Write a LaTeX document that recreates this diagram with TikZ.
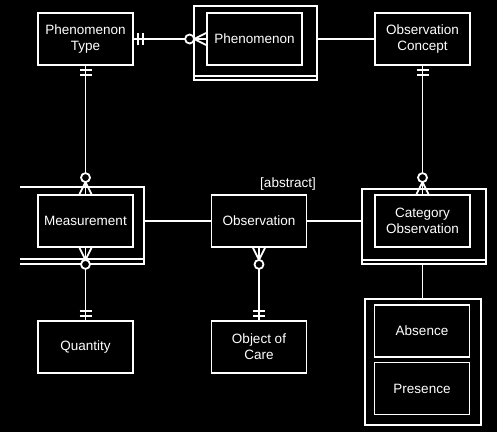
\documentclass[tikz,border=0pt]{standalone}
\usepackage{fontspec}
\setmainfont{Liberation Sans}
\tikzset{
  entity/.style={draw, fill=black, minimum width=95pt, minimum height=52pt,
    inner sep=0pt, align=center, font=\fontsize{13.5}{16}\selectfont},
  superbox/.style={draw, inner sep=0pt},
  manyopt/.pic={
    \draw (0,-6) -- (12,0) -- (0,6);
    \draw (0,0) -- (12,0);
    \draw[fill=black] (16.5,0) circle (4.5pt);
  },
  onlyone/.pic={
    \draw (4,-6) -- (4,6);
    \draw (9,-6) -- (9,6);
  }
}
\begin{document}
\begin{tikzpicture}[x=1pt, y=-1pt, white, line width=1.8pt]
  \useasboundingbox[fill=black] (0,0) rectangle (497,432);

  % supertype boxes
  \node[superbox, minimum width=123pt, minimum height=74pt] (phenall) at (255.5,43) {};
  \node[superbox, minimum width=124pt, minimum height=75pt] (catall) at (424,226.5) {};
  \node[superbox, minimum width=116pt, minimum height=126pt] (presall) at (423,362) {};
  \node[minimum width=122pt, minimum height=75pt, inner sep=0pt] (measall) at (82,225.5) {};
  \draw (measall.north west) -- (measall.north east)
     -- (measall.south east) -- (measall.south west);
  \foreach \b in {phenall,catall,measall}
    \draw ([yshift=5pt]\b.south west) -- ([yshift=5pt]\b.south east);

  % entities
  \node[entity] (ptype) at (85.5,39) {Phenomenon\\Type};
  \node[entity] (phen) at (254.5,39) {Phenomenon};
  \node[entity] (ocon) at (422.5,39) {Observation\\Concept};
  \node[entity] (meas) at (85.5,221) {Measurement};
  \node[entity] (obs) at (259,221) {Observation};
  \node[entity] (cat) at (422.5,221) {Category\\Observation};
  \node[entity] (qty) at (85.5,347) {Quantity};
  \node[entity] (care) at (259,347) {Object of\\Care};
  \node[entity] (absn) at (422,331) {Absence};
  \node[entity] (pres) at (422,388.5) {Presence};
  \node[font=\fontsize{13.5}{16}\selectfont] (abst) at (288,184) {[abstract]};

  % relationships
  \draw (ptype) -- (phen);
  \pic at (ptype.east) {onlyone};
  \pic[rotate=180] at (phen.west) {manyopt};
  \draw (phenall.east |- phen) -- (ocon);

  \draw (ptype) -- (meas);
  \pic[rotate=-90] at (ptype.south) {onlyone};
  \pic[rotate=90] at (meas.north) {manyopt};

  \draw (ocon) -- (cat);
  \pic[rotate=-90] at (ocon.south) {onlyone};
  \pic[rotate=90] at (cat.north) {manyopt};

  \draw (meas) -- (qty);
  \pic[rotate=-90] at (meas.south) {manyopt};
  \pic[rotate=90] at (qty.north) {onlyone};

  \draw (obs) -- (care);
  \pic[rotate=-90] at (obs.south) {manyopt};
  \pic[rotate=90] at (care.north) {onlyone};

  \draw (obs.west -| measall.east) -- (obs.west);
  \draw (obs.east) -- (obs.east -| catall.west);
  \draw (catall.south -| cat) -- (presall.north -| cat);
\end{tikzpicture}
\end{document}
